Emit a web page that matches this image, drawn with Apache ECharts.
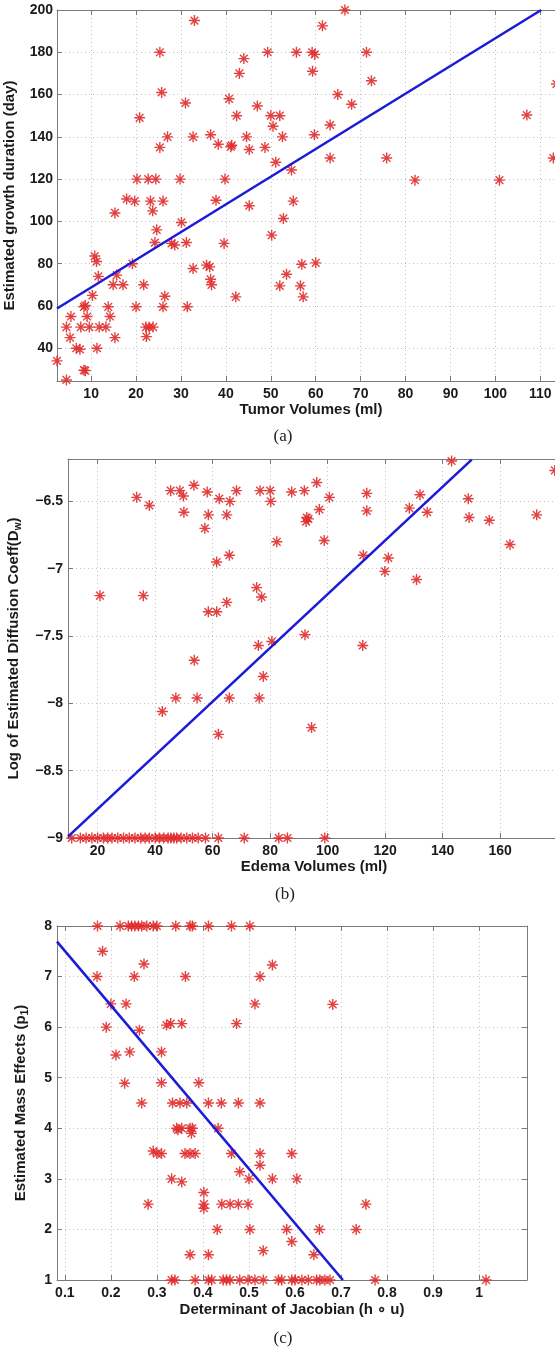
<!DOCTYPE html>
<html lang="en">
<head>
    <meta charset="UTF-8">
    <title>Tumor growth scatter plots</title>
    <script src="https://cdn.jsdelivr.net/npm/echarts@6.0.0/dist/echarts.min.js"></script>
    <style>
        html, body { margin: 0; padding: 0; background: #fff; }
        #chart { width: 555px; height: 1353px; }
    </style>
</head>
<body>
<div id="chart"></div>

<script>
    // (a) tumor volume vs growth duration
    var tumorVol = [33, 25.3, 25.7, 20.8, 31, 25.3, 27, 32.7, 36.6, 38.3, 41.1, 41.3, 40.7, 43, 44, 42.4, 44.6, 45.2, 47, 48.7,
        49.3, 50, 50.5, 51.1, 17.9, 19.7, 23.2, 26, 23.7, 20.2, 22.7, 24.4, 29.8, 39.8, 37.8, 45.2, 66.5, 61.5, 55.7, 59.2,
        59.8, 71.3, 59.3, 72.4, 64.9, 68, 52, 52.6, 59.7, 63.2, 107, 63.2, 75.8, 112.9, 113.6, 54.6, 82.1, 100.9, 55, 52.8,
        15.3, 24.6, 30.1, 24.2, 27.9, 28.6, 31.2, 39.6, 50.2, 10.8, 11.2, 19.2, 11.6, 15.7, 14.9, 17.1, 21.7, 32.7, 35.7, 36.4,
        36.6, 36.8, 52, 42.2, 26.4, 10.3, 26, 20, 31.4, 8.4, 8.7, 13.8, 5.5, 9.1, 14.2, 4.5, 7.7, 9.6, 11.8, 13.3,
        22.2, 22.9, 23.8, 22.3, 5.3, 15.3, 6.7, 7.5, 11.3, 8.4, 8.7, 2.4, 4.5, 56.9, 60, 53.5, 56.6, 57.2];
    var growthDays = [195, 180, 161, 149, 156, 135, 140, 140, 141, 136.5, 135.3, 136, 158, 170, 177, 150, 140, 134, 154.6, 135,
        180, 150, 145, 128, 110.6, 109.6, 109.6, 109.6, 105, 120, 120, 120, 120, 120, 110, 107.4, 200, 192.5, 180, 180,
        179, 180, 171, 166.5, 160, 155.4, 150, 140, 141, 145.6, 150.3, 130, 130, 130, 165, 124.3, 119.5, 119.5, 109.6, 101.4,
        104, 96, 99.5, 90, 89.6, 88.8, 90, 89.6, 93.5, 83.6, 81, 80, 74, 74.6, 70, 70, 70, 77.7, 79.3, 78.5,
        72.6, 70, 69.5, 64.3, 64.6, 65, 59.6, 59.6, 59.6, 59.6, 60.2, 59.6, 55, 55, 55, 50, 50, 50, 50, 50,
        50, 50, 50, 45.5, 45, 45, 40, 39.5, 40, 29.6, 29.4, 34, 25, 79.7, 80.4, 75, 69.5, 64.3];
    var fitA = [[2.4, 58.8], [110.2, 200]];
    var ticksAX = [10, 20, 30, 40, 50, 60, 70, 80, 90, 100, 110];
    var ticksAY = [40, 60, 80, 100, 120, 140, 160, 180, 200];

    // (b) edema volume vs log diffusion coefficient
    var edemaVol = [20.8, 35.9, 33.6, 38, 45.4, 48.6, 49.8, 53.5, 58.1, 62.3, 66, 68.3, 50, 58.5, 64.9, 57.3, 76.5, 80, 80.2, 82.3,
        61.4, 65.8, 75.3, 77, 64.9, 58.5, 61.4, 80.6, 75.9, 53.6, 77.6, 47.2, 54.6, 65.8, 76.2, 42.5, 62, 92.1, 112.2, 94.4,
        143.1, 179, 87.5, 91.9, 96.2, 100.6, 113.6, 113.6, 132.1, 128.4, 134.6, 148.9, 149.2, 156.2, 172.7, 163.4, 92.7, 93.3, 92.5, 97.1,
        98.8, 112.4, 121.1, 119.9, 130.9,
        11, 14, 16, 18, 20, 22, 23.5, 25, 27, 29, 31, 33, 35, 36.5, 38, 40, 41.5, 43, 44.5, 45.5,
        46.5, 47.5, 49, 51, 53, 55, 57.5, 62, 71, 83, 86, 99];
    var logDiff = [-7.2, -7.2, -6.47, -6.53, -6.42, -6.42, -6.46, -6.38, -6.43, -6.48, -6.5, -6.42, -6.58, -6.6, -6.6, -6.7, -6.42, -6.42, -6.5, -6.8,
        -6.95, -6.9, -7.14, -7.21, -7.25, -7.32, -7.32, -7.54, -7.57, -7.68, -7.8, -7.96, -7.96, -7.96, -7.96, -8.06, -8.23, -7.49, -7.57, -8.18,
        -6.2, -6.27, -6.43, -6.42, -6.36, -6.47, -6.44, -6.57, -6.45, -6.55, -6.58, -6.48, -6.62, -6.64, -6.6, -6.82, -6.62, -6.63, -6.65, -6.56,
        -6.79, -6.9, -6.92, -7.02, -7.08,
        -9, -9, -9, -9, -9, -9, -9, -9, -9, -9, -9, -9, -9, -9, -9, -9, -9, -9, -9, -9,
        -9, -9, -9, -9, -9, -9, -9, -9, -9, -9, -9, -9];
    var fitB = [[9.7, -8.99], [150.1, -6.19]];
    var ticksBX = [20, 40, 60, 80, 100, 120, 140, 160];
    var ticksBY = [-9, -8.5, -8, -7.5, -7, -6.5];

    // (c) jacobian determinant vs mass effect
    var jacDet = [0.082, 0.171, 0.22, 0.238, 0.245, 0.252, 0.26, 0.267, 0.278, 0.292, 0.3, 0.341, 0.372, 0.377, 0.412, 0.462, 0.502,
        0.182, 0.17, 0.272, 0.251, 0.362, 0.524, 0.551, 0.513, 0.2, 0.233, 0.19, 0.262, 0.321, 0.33, 0.354, 0.473, 0.682,
        0.211, 0.241, 0.31, 0.23, 0.31, 0.391,
        0.267, 0.334, 0.35, 0.365, 0.412, 0.44, 0.477, 0.524,
        0.343, 0.354, 0.372, 0.377, 0.433, 0.375, 0.346,
        0.292, 0.3, 0.31, 0.361, 0.372, 0.383, 0.462, 0.524, 0.593,
        0.524, 0.48, 0.5, 0.551, 0.604, 0.332, 0.354,
        0.402, 0.402, 0.402, 0.281, 0.441, 0.459, 0.477, 0.498, 0.754,
        0.431, 0.502, 0.582, 0.653, 0.733, 0.593, 0.372, 0.412, 0.531, 0.641,
        0.332, 0.339, 0.383, 0.412, 0.419, 0.444, 0.451, 0.459, 0.48, 0.498, 0.513, 0.531, 0.564,
        0.571, 0.593, 0.6, 0.615, 0.629, 0.647, 0.654, 0.665, 0.676, 0.774, 1.015];
    var massEffect = [8, 8, 8, 8, 8, 8, 8, 8, 8, 8, 8, 8, 8, 8, 8, 8, 8,
        7.5, 7, 7.25, 7, 7, 7, 7.23, 6.46, 6.46, 6.46, 6, 5.94, 6.04, 6.07, 6.07, 6.07, 6.45,
        5.45, 5.51, 5.51, 4.89, 4.9, 4.9,
        4.5, 4.5, 4.5, 4.5, 4.5, 4.5, 4.5, 4.5,
        4, 4, 4, 4, 4, 3.9, 3.97,
        3.55, 3.5, 3.5, 3.5, 3.5, 3.5, 3.5, 3.5, 3.5,
        3.27, 3.14, 3, 3, 3, 3, 2.94,
        2.73, 2.5, 2.42, 2.5, 2.5, 2.5, 2.5, 2.5, 2.5,
        2, 2, 2, 2, 2, 1.76, 1.5, 1.5, 1.58, 1.5,
        1, 1, 1, 1, 1, 1, 1, 1, 1, 1, 1, 1, 1,
        1, 1, 1, 1, 1, 1, 1, 1, 1, 1, 1];
    var fitC = [[0.083, 7.69], [0.704, 1]];
    var ticksCX = [0.1, 0.2, 0.3, 0.4, 0.5, 0.6, 0.7, 0.8, 0.9, 1];
    var ticksCY = [1, 2, 3, 4, 5, 6, 7, 8];

    function pairs(xs, ys) {
        return xs.map(function (x, i) { return [x, ys[i]]; });
    }

    var starPath = 'path://M5,0L5,10M0,5L10,5M1.5,1.5L8.5,8.5M1.5,8.5L8.5,1.5';
    var fontFam = '"Liberation Sans", Arial, sans-serif';
    var axisCol = '#7a7a7a';
    var labelStyle = { color: '#1a1a1a', fontFamily: fontFam, fontWeight: 'bold', fontSize: 14 };
    var subRich = { sub: { fontSize: 10, fontWeight: 'bold', fontFamily: fontFam, color: '#1a1a1a', lineHeight: 10, verticalAlign: 'bottom' } };

    function xAxisPair(g, min, max, ticks, name, nameGap, margin) {
        return [{
            gridIndex: g, type: 'value', min: min, max: max, name: name,
            nameLocation: 'middle', nameGap: nameGap,
            nameTextStyle: { color: '#1a1a1a', fontFamily: fontFam, fontWeight: 'bold', fontSize: 15, rich: subRich },
            axisLine: { onZero: false, lineStyle: { color: axisCol, width: 1 } },
            axisTick: { inside: true, length: 5, customValues: ticks, lineStyle: { color: axisCol } },
            axisLabel: Object.assign({ customValues: ticks, margin: margin, formatter: function (v) { return String(v); } }, labelStyle),
            splitLine: { show: true, lineStyle: { color: '#c4c4c4', type: [1, 3] } }
        }, {
            gridIndex: g, type: 'value', min: min, max: max, position: 'top',
            axisLine: { onZero: false, lineStyle: { color: axisCol, width: 1 } },
            axisTick: { inside: true, length: 5, customValues: ticks, lineStyle: { color: axisCol } },
            axisLabel: { show: false },
            splitLine: { show: false }
        }];
    }

    function yAxisPair(g, min, max, ticks, name, nameGap, margin) {
        return [{
            gridIndex: g, type: 'value', min: min, max: max, name: name,
            nameLocation: 'middle', nameGap: nameGap, nameRotate: 90,
            nameTextStyle: { color: '#1a1a1a', fontFamily: fontFam, fontWeight: 'bold', fontSize: 15, lineHeight: 18, rich: subRich },
            axisLine: { onZero: false, lineStyle: { color: axisCol, width: 1 } },
            axisTick: { inside: true, length: 5, customValues: ticks, lineStyle: { color: axisCol } },
            axisLabel: Object.assign({ customValues: ticks, margin: margin, formatter: function (v) { return String(v).replace('-', '\u2212'); } }, labelStyle),
            splitLine: { show: true, lineStyle: { color: '#c4c4c4', type: [1, 3] } }
        }, {
            gridIndex: g, type: 'value', min: min, max: max, position: 'right',
            axisLine: { onZero: false, lineStyle: { color: axisCol, width: 1 } },
            axisTick: { inside: true, length: 5, customValues: ticks, lineStyle: { color: axisCol } },
            axisLabel: { show: false },
            splitLine: { show: false }
        }];
    }

    function starSeries(idx, data) {
        return {
            type: 'scatter', xAxisIndex: idx, yAxisIndex: idx, data: data,
            symbol: starPath, symbolSize: 11, silent: true, z: 3,
            itemStyle: { color: 'rgba(0,0,0,0)', borderColor: '#e02c2c', borderWidth: 1.4, opacity: 0.9 }
        };
    }

    function fitSeries(idx, data) {
        return {
            type: 'line', xAxisIndex: idx, yAxisIndex: idx, data: data,
            showSymbol: false, silent: true, z: 4,
            lineStyle: { color: '#1c1cd8', width: 2.6 }
        };
    }

    var chart = echarts.init(document.getElementById('chart'), null, { renderer: 'canvas' });

    var xs = [].concat(
        xAxisPair(0, 2.4, 115.5, ticksAX, 'Tumor Volumes (ml)', 21, 6),
        xAxisPair(1, 9.7, 180.8, ticksBX, 'Edema Volumes (ml)', 21, 6),
        xAxisPair(2, 0.083, 1.104, ticksCX, 'Determinant of Jacobian (h \u2218 u)', 22, 6)
    );
    var ys = [].concat(
        yAxisPair(0, 24.5, 200, ticksAY, 'Estimated growth duration (day)', 34, 4),
        yAxisPair(1, -9, -6.185, ticksBY, 'Log of Estimated Diffusion Coeff(D{sub|w})', 45, 5),
        yAxisPair(2, 1, 8, ticksCY, 'Estimated Mass Effects (p{sub|1})', 27, 5)
    );
    // series sit on the bottom/left axes; top/right ones only carry ticks
    var series = [
        starSeries(0, pairs(tumorVol, growthDays)),
        fitSeries(0, fitA),
        starSeries(2, pairs(edemaVol, logDiff)),
        fitSeries(2, fitB),
        starSeries(4, pairs(jacDet, massEffect)),
        fitSeries(4, fitC)
    ];

    var captionFont = '17px "Liberation Serif", "Times New Roman", serif';
    var option = {
        animation: false,
        backgroundColor: '#ffffff',
        grid: [
            { left: 57, top: 10, width: 508, height: 371, containLabel: false, outerBoundsMode: 'none' },
            { left: 68, top: 459, width: 492, height: 379, containLabel: false, outerBoundsMode: 'none' },
            { left: 57, top: 926, width: 470, height: 354, containLabel: false, outerBoundsMode: 'none' }
        ],
        xAxis: xs,
        yAxis: ys,
        series: series,
        graphic: [
            { type: 'text', x: 283, y: 437, style: { text: '(a)', font: captionFont, fill: '#222', align: 'center', verticalAlign: 'middle' } },
            { type: 'text', x: 285, y: 895, style: { text: '(b)', font: captionFont, fill: '#222', align: 'center', verticalAlign: 'middle' } },
            { type: 'text', x: 283, y: 1339, style: { text: '(c)', font: captionFont, fill: '#222', align: 'center', verticalAlign: 'middle' } }
        ]
    };

    option && chart.setOption(option);
</script>
</body>
</html>
